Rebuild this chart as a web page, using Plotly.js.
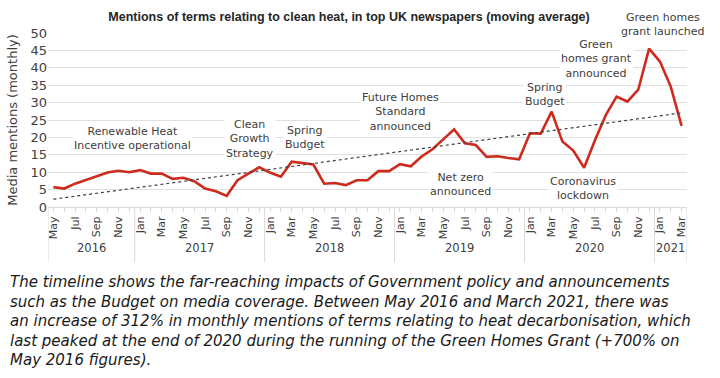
<!DOCTYPE html>
<html><head><meta charset="utf-8">
<script src="https://cdn.plot.ly/plotly-3.0.1.min.js"></script>
<style>html,body{margin:0;padding:0;background:#fff}#chart{width:720px;height:378px}</style>
</head><body><div id="chart"></div>
<script>
const months = ["May","Jun","Jul","Aug","Sep","Oct","Nov","Dec",
 "Jan","Feb","Mar","Apr","May","Jun","Jul","Aug","Sep","Oct","Nov","Dec",
 "Jan","Feb","Mar","Apr","May","Jun","Jul","Aug","Sep","Oct","Nov","Dec",
 "Jan","Feb","Mar","Apr","May","Jun","Jul","Aug","Sep","Oct","Nov","Dec",
 "Jan","Feb","Mar","Apr","May","Jun","Jul","Aug","Sep","Oct","Nov","Dec",
 "Jan","Feb","Mar"];
const mentions = [5.7,5.3,6.7,7.7,8.7,9.9,10.4,10.0,10.6,9.6,9.6,8.1,8.4,7.4,5.3,4.5,3.2,7.7,9.6,11.4,
 9.9,8.7,13.0,12.6,12.2,6.7,6.9,6.3,7.7,7.7,10.3,10.3,12.3,11.7,14.5,16.6,19.4,22.3,18.3,17.8,
 14.4,14.6,14.1,13.7,21.2,21.1,27.4,18.8,16.2,11.3,19.2,26.4,31.7,30.3,33.7,45.5,41.8,34.6,23.3];
const years = ["2016","2017","2018","2019","2020","2021"];
const yearStart = [0,8,20,32,44,56];
const yearEnd = [7,19,31,43,55,58];
const events = ["Renewable Heat<br>Incentive operational","Clean<br>Growth<br>Strategy","Spring<br>Budget",
 "Future Homes<br>Standard<br>announced","Net zero<br>announced","Spring<br>Budget",
 "Green<br>homes grant<br>announced","Green homes<br>grant launched","Coronavirus<br>lockdown"];
const caption = "The timeline shows the far-reaching impacts of Government policy and announcements<br>such as the Budget on media coverage. Between May 2016 and March 2021, there was<br>an increase of 312% in monthly mentions of terms relating to heat decarbonisation, which<br>last peaked at the end of 2020 during the running of the Green Homes Grant (+700% on<br>May 2016 figures).";

const idx = mentions.map((_, i) => i);
// linear (least squares) trendline
const n = idx.length;
const mx = idx.reduce((a,b)=>a+b,0)/n, my = mentions.reduce((a,b)=>a+b,0)/n;
let sxy=0, sxx=0;
idx.forEach((x,i)=>{sxy+=(x-mx)*(mentions[i]-my); sxx+=(x-mx)*(x-mx);});
const slope = sxy/sxx, icpt = my - slope*mx;
const trend = idx.map(x => icpt + slope*x);

const FONT = "DejaVu Sans";
const tickvals = idx.filter(i => i%2===0);
const ticktext = tickvals.map(i => months[i]);

// label positions in paper coordinates
const evPos = [[0.133,0.396],[0.316,0.390],[0.402,0.402],[0.551,0.546],[0.645,0.130],[0.778,0.644],[0.859,0.850],[0.962,1.048],[0.837,0.108]];
const annotations = events.map((t,k)=>({text:t, xref:'paper', yref:'paper', x:evPos[k][0], y:evPos[k][1],
  xanchor:'center', yanchor:'middle',
  showarrow:false, bgcolor:'#ffffff', font:{family:FONT, size:11, color:'#404040'}, align:'center'}));
years.forEach((y,k)=>{
  annotations.push({text:y, xref:'x', yref:'paper', x:(yearStart[k]+yearEnd[k])/2, y:-0.235,
    xanchor:'center', yanchor:'middle',
    showarrow:false, font:{family:FONT, size:11.5, color:'#404040'}});
});
annotations.push({text:caption, xref:'paper', yref:'paper', x:-0.062, xanchor:'left', y:-0.366, yanchor:'top',
  showarrow:false, align:'left', font:{family:FONT, size:15, color:'#1a1a1a', style:'italic'}});

const shapes = [];
const seps = [-0.5].concat(yearEnd.map(e=>e+0.5));
seps.forEach(s=>shapes.push({type:'line', xref:'x', yref:'paper', x0:s, x1:s, y0:0, y1:-0.317,
  line:{color:'#d9d9d9', width:1}}));

const data = [
 {x:idx, y:mentions, type:'scatter', mode:'lines', line:{color:'#cc2b1d', width:2.6}, hoverinfo:'skip'},
 {x:idx, y:trend, type:'scatter', mode:'lines', line:{color:'#404040', width:1.2, dash:'dot'}, hoverinfo:'skip'}
];
const layout = {
 width:720, height:378, showlegend:false, paper_bgcolor:'#fff', plot_bgcolor:'#fff',
 margin:{l:48, r:33, t:33, b:171},
 title:{text:'<b>Mentions of terms relating to clean heat, in top UK newspapers (moving average)</b>',
   font:{family:'Liberation Sans', size:12.5, color:'#262626'}, x:0.471, xref:'paper', xanchor:'center', y:0.955, yanchor:'middle'},
 xaxis:{range:[-0.5,58.5], tickmode:'array', tickvals:tickvals, ticktext:ticktext, tickangle:-90,
   tickfont:{family:FONT, size:11, color:'#404040'}, ticks:'outside', ticklen:4, tickcolor:'#d9d9d9',
   showgrid:false, zeroline:false, showline:true, linecolor:'#d9d9d9', linewidth:1,
   minor:{dtick:1, tick0:0, ticks:'outside', ticklen:4, tickcolor:'#d9d9d9', showgrid:false}},
 yaxis:{range:[0,50], dtick:5, tickfont:{family:FONT, size:13, color:'#404040'}, gridcolor:'#e0e0e0',
   zeroline:false, showline:false, ticks:'', title:{text:'Media mentions (monthly)', font:{family:FONT, size:13, color:'#404040'}, standoff:9}},
 annotations:annotations, shapes:shapes
};
Plotly.newPlot('chart', data, layout, {staticPlot:true, displayModeBar:false});
</script></body></html>
